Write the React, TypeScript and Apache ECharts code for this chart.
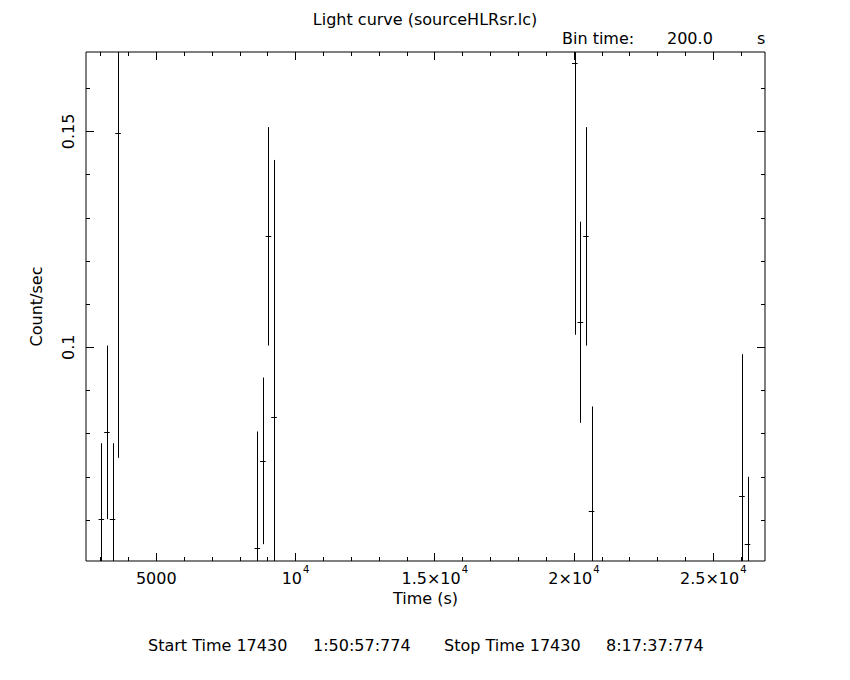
import React, { useEffect, useRef } from "react";
import * as echarts from "echarts";

// ---- data ----
const times = [3030, 3230, 3430, 3630, 8630, 8830, 9030, 9230, 20030, 20230, 20430, 20630, 26030, 26230];
const rates = [0.0603, 0.0803, 0.0603, 0.1497, 0.0535, 0.0737, 0.1257, 0.0838, 0.1658, 0.1058, 0.1257, 0.062, 0.0656, 0.0545];
const errors = [0.0175, 0.0201, 0.0175, 0.0753, 0.027, 0.0193, 0.0253, 0.0596, 0.0629, 0.0233, 0.0253, 0.0243, 0.0328, 0.0155];
const binTime = 200;

const majorX = [5000, 10000, 15000, 20000, 25000];
const xTickLabels = ["{m|5000}", "{m|10}{s|4}", "{m|1.5×10}{s|4}", "{m|2×10}{s|4}", "{m|2.5×10}{s|4}"];
const minorX = [3000, 4000, 6000, 7000, 8000, 9000, 11000, 12000, 13000, 14000, 16000, 17000, 18000, 19000, 21000, 22000, 23000, 24000, 26000];
const majorY = [0.1, 0.15];
const yTickLabels = ["0.1", "0.15"];
const minorY = [0.06, 0.07, 0.08, 0.09, 0.11, 0.12, 0.13, 0.14, 0.16];

const xMin = 2478;
const xMax = 26858;
const yMin = 0.0505;
const yMax = 0.1684;

const FONT = "DejaVu Sans";
const FS = 16;

function xAxisDef(position: "top" | "bottom", values: number[], len: number, labels: boolean) {
  return {
    type: "value",
    position,
    min: xMin,
    max: xMax,
    axisLine: { show: false },
    splitLine: { show: false },
    axisTick: { show: true, inside: true, length: len, customValues: values, lineStyle: { color: "#000", width: 1 } },
    axisLabel: labels
      ? {
          show: true,
          customValues: values,
          margin: 3,
          color: "#000",
          fontFamily: FONT,
          fontSize: FS,
          formatter: (v: number) => {
            const i = majorX.indexOf(v);
            return i >= 0 ? xTickLabels[i] : "";
          },
          rich: {
            m: { fontFamily: FONT, fontSize: FS, color: "#000", lineHeight: 22, verticalAlign: "bottom" },
            s: { fontFamily: FONT, fontSize: 10, color: "#000", lineHeight: 22, verticalAlign: "top", padding: [0, 0, 0, 1] },
          },
        }
      : { show: false },
    name: labels && position === "bottom" ? "Time (s)" : "",
    nameLocation: "middle",
    nameGap: 28,
    nameTextStyle: { fontFamily: FONT, fontSize: FS, color: "#000" },
  };
}

function yAxisDef(position: "left" | "right", values: number[], len: number, labels: boolean) {
  return {
    type: "value",
    position,
    min: yMin,
    max: yMax,
    axisLine: { show: false },
    splitLine: { show: false },
    axisTick: { show: true, inside: true, length: len, customValues: values, lineStyle: { color: "#000", width: 1 } },
    axisLabel: labels
      ? {
          show: true,
          customValues: values,
          rotate: 90,
          margin: 10,
          color: "#000",
          fontFamily: FONT,
          fontSize: FS,
          formatter: (v: number) => {
            const i = majorY.findIndex((m) => Math.abs(m - v) < 1e-9);
            return i >= 0 ? yTickLabels[i] : "";
          },
        }
      : { show: false },
    name: labels && position === "left" ? "Count/sec" : "",
    nameLocation: "middle",
    nameRotate: 90,
    nameGap: 42,
    nameTextStyle: { fontFamily: FONT, fontSize: FS, color: "#000" },
  };
}

export default function App() {
  const ref = useRef<HTMLDivElement>(null);
  useEffect(() => {
    if (!ref.current) return;
    const chart = echarts.init(ref.current, undefined, { renderer: "svg" });
    const data = times.map((t, i) => [t, rates[i], errors[i]]);
    chart.setOption({
      animation: false,
      backgroundColor: "#fff",
      title: {
        text: "Light curve (sourceHLRsr.lc)",
        left: "center",
        top: 6,
        textStyle: { fontFamily: FONT, fontSize: FS, fontWeight: "normal", color: "#000" },
      },
      grid: {
        left: 86,
        top: 52,
        right: 85,
        bottom: 119,
        show: true,
        borderColor: "#000",
        borderWidth: 1,
        backgroundColor: "transparent",
      },
      xAxis: [
        xAxisDef("bottom", majorX, 8, true),
        xAxisDef("bottom", minorX, 4, false),
        xAxisDef("top", majorX, 8, false),
        xAxisDef("top", minorX, 4, false),
      ],
      yAxis: [
        yAxisDef("left", majorY, 8, true),
        yAxisDef("left", minorY, 4, false),
        yAxisDef("right", majorY, 8, false),
        yAxisDef("right", minorY, 4, false),
      ],
      graphic: [
        { type: "text", left: 562, top: 30, style: { text: "Bin time:", fontFamily: FONT, fontSize: FS, fill: "#000" } },
        { type: "text", left: 667, top: 30, style: { text: "200.0", fontFamily: FONT, fontSize: FS, fill: "#000" } },
        { type: "text", left: 757, top: 30, style: { text: "s", fontFamily: FONT, fontSize: FS, fill: "#000" } },
        { type: "text", left: 148, top: 637, style: { text: "Start Time 17430", fontFamily: FONT, fontSize: FS, fill: "#000" } },
        { type: "text", left: 313, top: 637, style: { text: "1:50:57:774", fontFamily: FONT, fontSize: FS, fill: "#000" } },
        { type: "text", left: 444, top: 637, style: { text: "Stop Time 17430", fontFamily: FONT, fontSize: FS, fill: "#000" } },
        { type: "text", left: 606, top: 637, style: { text: "8:17:37:774", fontFamily: FONT, fontSize: FS, fill: "#000" } },
      ],
      series: [
        {
          type: "custom",
          xAxisIndex: 0,
          yAxisIndex: 0,
          data,
          encode: { x: 0, y: 1 },
          renderItem: (params: any, api: any) => {
            const t = api.value(0);
            const r = api.value(1);
            const e = api.value(2);
            const cs = params.coordSys;
            const c = api.coord([t, r]);
            const top = api.coord([t, r + e]);
            const bot = api.coord([t, r - e]);
            const l = api.coord([t - binTime / 2, r]);
            const rr = api.coord([t + binTime / 2, r]);
            const y1 = Math.max(cs.y, Math.min(cs.y + cs.height, top[1]));
            const y2 = Math.max(cs.y, Math.min(cs.y + cs.height, bot[1]));
            const x = Math.round(c[0]) + 0.5;
            const yc = Math.round(c[1]) + 0.5;
            const children: any[] = [
              { type: "line", shape: { x1: x, y1, x2: x, y2 }, style: { stroke: "#000", lineWidth: 1 } },
            ];
            if (c[1] >= cs.y && c[1] <= cs.y + cs.height) {
              children.push({
                type: "line",
                shape: { x1: l[0], y1: yc, x2: rr[0], y2: yc },
                style: { stroke: "#000", lineWidth: 1 },
              });
            }
            return { type: "group", children };
          },
        },
      ],
    });
    return () => chart.dispose();
  }, []);
  return <div ref={ref} style={{ position: "fixed", left: 0, top: 0, width: 850, height: 680 }} />;
}
